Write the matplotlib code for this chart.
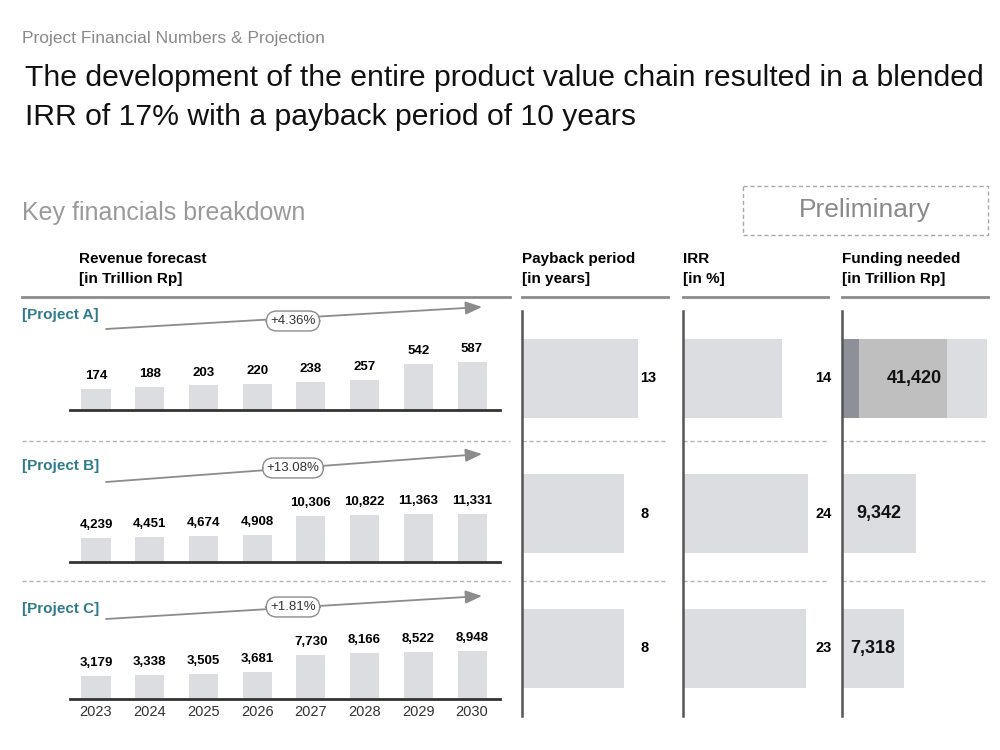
import matplotlib.pyplot as plt
from matplotlib.patches import Rectangle
import numpy as np

plt.rcParams['font.family'] = ['Liberation Sans Narrow', 'Liberation Sans', 'DejaVu Sans']

years = ['2023', '2024', '2025', '2026', '2027', '2028', '2029', '2030']
projects = ['[Project A]', '[Project B]', '[Project C]']
revenue_a = [174, 188, 203, 220, 238, 257, 542, 587]
revenue_b = [4239, 4451, 4674, 4908, 10306, 10822, 11363, 11331]
revenue_c = [3179, 3338, 3505, 3681, 7730, 8166, 8522, 8948]
growth = ['+4.36%', '+13.08%', '+1.81%']
payback = [13, 8, 8]
irr = [14, 24, 23]
funding = [41420, 9342, 7318]
# project A funding split, cumulative
funding_a_split = [2800, 17900]

light = '#dcdde0'
mid = '#bfbfc0'
dark = '#8e9097'
teal = '#2f7c8c'

fig = plt.figure(figsize=(10, 7.5), dpi=100)


def px(x0, y0, x1, y1):
    # pixel box -> figure fraction
    return [x0 / 1000, 1 - y1 / 750, (x1 - x0) / 1000, (y1 - y0) / 750]


bg = fig.add_axes([0, 0, 1, 1])
bg.set_xlim(0, 1000)
bg.set_ylim(750, 0)
bg.axis('off')

bg.text(22, 38, 'Project Financial Numbers & Projection', fontsize=12.5, color='#8a8a8a', va='center')
bg.text(25, 78, 'The development of the entire product value chain resulted in a blended',
        fontsize=21.7, color='#111111', va='center')
bg.text(25, 117, 'IRR of 17% with a payback period of 10 years', fontsize=21.7, color='#111111', va='center')
bg.text(22, 213, 'Key financials breakdown', fontsize=18, color='#9a9a9a', va='center')

bg.add_patch(Rectangle((743, 186), 245, 49, fill=False, ec='#a8a8a8', lw=1, ls=(0, (3, 2))))
bg.text(865, 210, 'Preliminary', fontsize=19, color='#8a8a8a', ha='center', va='center')

headers = [(79, 'Revenue forecast', '[in Trillion Rp]'),
           (522, 'Payback period', '[in years]'),
           (683, 'IRR', '[in %]'),
           (842, 'Funding needed', '[in Trillion Rp]')]
for hx, l1, l2 in headers:
    bg.text(hx, 259, l1, fontsize=11, fontweight='bold', va='center')
    bg.text(hx, 279, l2, fontsize=11, fontweight='bold', va='center')

cols = [(22, 510), (522, 668), (683, 828), (842, 988)]
for c0, c1 in cols:
    bg.plot([c0, c1], [297, 297], color='#8c8c8c', lw=2)
    for yy in [441, 581]:
        bg.plot([c0, c1], [yy, yy], color='#b4b4b4', lw=1, ls=(0, (3, 2)))

label_y = [315, 466, 609]
arrow_y = [(329, 307), (482, 454), (619, 596)]
oval_y = [321, 468, 607]
for i in range(3):
    bg.text(22, label_y[i], projects[i], fontsize=11, fontweight='bold', color=teal, va='center')
    bg.annotate('', xy=(482, arrow_y[i][1]), xytext=(106, arrow_y[i][0]),
                arrowprops=dict(arrowstyle='-|>,head_length=1.0,head_width=0.4', mutation_scale=10,
                                color='#8c8c8c', lw=1.3, shrinkA=0, shrinkB=0))
    bg.text(293, oval_y[i], growth[i], fontsize=9.5, color='#333333', ha='center', va='center',
            bbox=dict(boxstyle='round,pad=0.3,rounding_size=0.8', fc='white', ec='#8c8c8c', lw=1))

# revenue bars
baselines = [410, 562, 699]
x = np.arange(len(years))
for i, vals in enumerate([revenue_a, revenue_b, revenue_c]):
    yb = baselines[i]
    ax = fig.add_axes(px(70, yb - 48, 500, yb))
    ax.set_facecolor('none')
    ax.set_yscale('log')
    lo = min(vals) / 2.6
    ax.set_ylim(lo, max(vals))
    ax.set_xlim(-0.484, 7.52)
    v = np.array(vals)
    ax.bar(x, v - lo, bottom=lo, width=0.54, color=light)
    for xi, val in zip(x, vals):
        ax.annotate(f'{val:,}', (xi, val), xytext=(0, 5), textcoords='offset points',
                    ha='center', va='bottom', fontsize=9.5, fontweight='bold', annotation_clip=False)
    for s in ['top', 'right', 'left']:
        ax.spines[s].set_visible(False)
    ax.spines['bottom'].set_color('#333333')
    ax.spines['bottom'].set_linewidth(2)
    ax.set_yticks([])
    ax.set_yticks([], minor=True)
    if i == 2:
        ax.set_xticks(x)
        ax.set_xticklabels(years, fontsize=10.5, color='#333333')
        ax.tick_params(axis='x', length=0, pad=4)
    else:
        ax.set_xticks([])

# right panels
rows = np.arange(3)
panels = [(522, 668, payback, (0.23, 37)),
          (683, 833, irr, (1.8, 40.3)),
          (842, 988, funding, (1980, 42300))]
for k, (p0, p1, vals, lim) in enumerate(panels):
    ax = fig.add_axes(px(p0, 311, p1, 716))
    ax.set_facecolor('none')
    ax.set_xscale('log')
    ax.set_xlim(*lim)
    ax.set_ylim(2.5, -0.5)
    lo = lim[0]
    v = np.array(vals)
    ax.barh(rows, v - lo, left=lo, height=0.58, color=light)
    if k == 2:
        ax.barh(0, funding_a_split[1] - lo, left=lo, height=0.58, color=mid)
        ax.barh(0, funding_a_split[0] - lo, left=lo, height=0.58, color=dark)
        for r, val in zip(rows, vals):
            ax.text(np.sqrt(lo * val), r, f'{val:,}', ha='center', va='center',
                    fontsize=13, fontweight='bold', color='#111111')
    elif k == 0:
        for r, val in zip(rows, vals):
            ax.text(0.81, r, str(val), transform=ax.get_yaxis_transform(), ha='left', va='center',
                    fontsize=10.5, fontweight='bold')
    else:
        for r, val in zip(rows, vals):
            ax.text(0.99, r, str(val), transform=ax.get_yaxis_transform(), ha='right', va='center',
                    fontsize=10.5, fontweight='bold')
    for s in ['top', 'right', 'bottom']:
        ax.spines[s].set_visible(False)
    ax.spines['left'].set_color('#555555')
    ax.spines['left'].set_linewidth(1.8)
    ax.set_xticks([])
    ax.set_xticks([], minor=True)
    ax.set_yticks([])

fig.savefig('out.png', dpi=100)
